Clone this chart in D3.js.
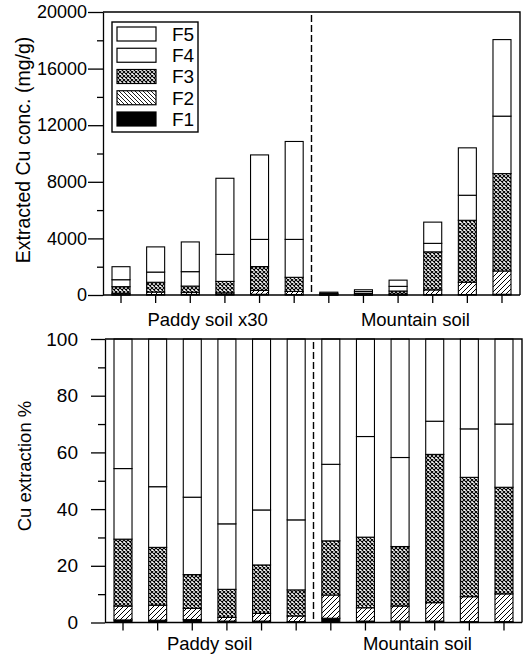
<!DOCTYPE html>
<html>
<head>
<meta charset="utf-8">
<script src="https://cdn.jsdelivr.net/npm/d3@7"></script>
<style>
  html, body { margin: 0; padding: 0; background: #fff; }
  svg { display: block; font-family: "Liberation Sans", Arial, Helvetica, sans-serif; }
</style>
</head>
<body>
<svg id="chart" width="525" height="662"></svg>
<script>
// ---- data -------------------------------------------------------------
const samples = d3.range(12);               // 6 paddy soils, then 6 mountain soils
const paddySamples = samples.slice(0, 6);
const mountainSamples = samples.slice(6);
const fractions = ["F1", "F2", "F3", "F4", "F5"];

// Extracted Cu concentration per fraction (mg/g); paddy values are plotted x30
const concF1 = [20, 30, 40, 40, 50, 30, 3, 2, 5, 25, 30, 50];
const concF2 = [100, 180, 150, 110, 270, 220, 16, 17, 56, 335, 870, 1650];
const concF3 = [470, 690, 440, 810, 1690, 1000, 39, 92, 220, 2690, 4380, 6880];
const concF4 = [490, 720, 1020, 1910, 1920, 2680, 54, 132, 330, 600, 1770, 4060];
const concF5 = [920, 1780, 2100, 5380, 5970, 6920, 88, 127, 439, 1500, 3350, 5410];

// Share of total extracted Cu per fraction (%)
const pctF1 = [0.9, 0.8, 1.0, 0.5, 0.5, 0.3, 1.5, 0.5, 0.5, 0.5, 0.3, 0.3];
const pctF2 = [4.9, 5.3, 4.0, 1.3, 2.7, 2.0, 8.2, 4.7, 5.3, 6.5, 8.8, 9.8];
const pctF3 = [23.6, 20.4, 11.9, 9.9, 17.1, 9.2, 19.1, 24.9, 21.0, 52.3, 42.1, 37.6];
const pctF4 = [24.9, 21.4, 27.3, 23.1, 19.4, 24.7, 27.0, 35.5, 31.4, 11.7, 17.1, 22.3];
const pctF5 = [45.7, 52.1, 55.8, 65.2, 60.3, 63.8, 44.2, 34.4, 41.8, 29.0, 31.7, 30.0];

const concMajorTicks = [0, 4000, 8000, 12000, 16000, 20000];
const concMinorTicks = [2000, 6000, 10000, 14000, 18000];
const pctMajorTicks = [0, 20, 40, 60, 80, 100];
const pctMinorTicks = [10, 30, 50, 70, 90];
const topGroupLabels = ["Paddy soil x30", "Mountain soil"];
const bottomGroupLabels = ["Paddy soil", "Mountain soil"];
const concTitle = "Extracted Cu conc. (mg/g)";
const pctTitle = "Cu extraction %";

// ---- drawing ----------------------------------------------------------
const svg = d3.select("#chart");
const defs = svg.append("defs");

// cross-hatch for F3
const cross = defs.append("pattern").attr("id", "pCross")
  .attr("patternUnits", "userSpaceOnUse").attr("width", 4).attr("height", 4);
cross.append("rect").attr("width", 4).attr("height", 4).attr("fill", "#fff");
cross.append("path").attr("d", "M0,0L4,4M4,0L0,4")
  .attr("stroke", "#000").attr("stroke-width", 1.1);

// forward diagonal hatch for F2 bars
const slash = defs.append("pattern").attr("id", "pSlash")
  .attr("patternUnits", "userSpaceOnUse").attr("width", 5).attr("height", 5);
slash.append("rect").attr("width", 5).attr("height", 5).attr("fill", "#fff");
slash.append("path").attr("d", "M0,5L5,0M-1,1L1,-1M4,6L6,4")
  .attr("stroke", "#000").attr("stroke-width", 1);

// backward diagonal hatch for the F2 legend key
const back = defs.append("pattern").attr("id", "pBack")
  .attr("patternUnits", "userSpaceOnUse").attr("width", 4).attr("height", 4);
back.append("rect").attr("width", 4).attr("height", 4).attr("fill", "#fff");
back.append("path").attr("d", "M0,0L4,4M-1,3L1,5M3,-1L5,1")
  .attr("stroke", "#000").attr("stroke-width", 0.9);

const barFill = { F1: "#000", F2: "url(#pSlash)", F3: "url(#pCross)", F4: "#fff", F5: "#fff" };
const keyFill = { F1: "#000", F2: "url(#pBack)", F3: "url(#pCross)", F4: "#fff", F5: "#fff" };

function rowsFrom(cols) {
  return samples.map(i => {
    const r = { sample: i };
    fractions.forEach((f, k) => { r[f] = cols[k][i]; });
    return r;
  });
}

function panel(opt) {
  const g = svg.append("g");
  const x = d3.scaleBand().domain(samples).range([opt.left, opt.right])
    .paddingInner(0.48).paddingOuter(0.26);
  const y = d3.scaleLinear().domain(opt.domain).range([opt.bottom, opt.top]);

  const stacked = d3.stack().keys(fractions)(rowsFrom(opt.cols));

  // bars
  stacked.forEach(layer => {
    g.append("g").selectAll("rect").data(layer).join("rect")
      .attr("x", d => x(d.data.sample))
      .attr("width", x.bandwidth())
      .attr("y", d => y(d[1]))
      .attr("height", d => Math.max(0, y(d[0]) - y(d[1])))
      .attr("fill", barFill[layer.key])
      .attr("stroke", "#000")
      .attr("stroke-width", 1.1);
  });

  // dashed divider between the two soil groups
  const divX = (x(paddySamples[5]) + x.bandwidth() + x(mountainSamples[0])) / 2;
  g.append("line")
    .attr("x1", divX).attr("x2", divX)
    .attr("y1", opt.top + opt.dashTopGap).attr("y2", opt.bottom)
    .attr("stroke", "#000").attr("stroke-width", 1.4)
    .attr("stroke-dasharray", "7,3");

  // frame
  g.append("path")
    .attr("d", `M${opt.left},${opt.top}H${opt.right}V${opt.bottom}`)
    .attr("fill", "none").attr("stroke", "#000").attr("stroke-width", 1.4);

  // y axis: major + minor ticks
  const yMajor = g.append("g").attr("transform", `translate(${opt.left},0)`)
    .call(d3.axisLeft(y).tickValues(opt.major).tickFormat(d3.format("d"))
      .tickSize(opt.majorLen).tickPadding(opt.tickPad).tickSizeOuter(0));
  const yMinor = g.append("g").attr("transform", `translate(${opt.left},0)`)
    .call(d3.axisLeft(y).tickValues(opt.minor).tickSize(opt.minorLen)
      .tickFormat(() => "").tickSizeOuter(0));
  yMinor.select(".domain").remove();

  // x axis: a tick below each bar
  const xAxis = g.append("g").attr("transform", `translate(0,${opt.bottom})`)
    .call(d3.axisBottom(x).tickSize(8).tickFormat(() => "").tickSizeOuter(0));

  [yMajor, yMinor, xAxis].forEach(a => {
    a.selectAll("path, line").attr("stroke", "#000").attr("stroke-width", 1.3);
    a.selectAll("text").attr("fill", "#000")
      .style("font-family", "'Liberation Sans', Arial, sans-serif")
      .style("font-size", opt.tickFont);
  });
  xAxis.select(".domain").attr("d", `M${opt.left},0H${opt.right}`);

  // group labels
  [paddySamples, mountainSamples].forEach((grp, k) => {
    const cx = (x(grp[0]) + x(grp[grp.length - 1]) + x.bandwidth()) / 2;
    g.append("text")
      .attr("x", cx).attr("y", opt.labelY)
      .attr("text-anchor", "middle")
      .style("font-size", "18.5px")
      .text(opt.groupLabels[k]);
  });

  // y title
  g.append("text")
    .attr("transform", `translate(${opt.titleX},${opt.titleY}) rotate(-90)`)
    .attr("text-anchor", "middle")
    .style("font-size", opt.titleSize)
    .text(opt.title);

  return { x, y, g };
}

panel({
  left: 103, right: 520, top: 12, bottom: 295,
  domain: [0, 20000],
  cols: [concF1, concF2, concF3, concF4, concF5],
  major: concMajorTicks, minor: concMinorTicks,
  majorLen: 15, minorLen: 6, tickPad: 1, tickFont: "18px",
  groupLabels: topGroupLabels, labelY: 326,
  title: concTitle, titleX: 30, titleY: 150, titleSize: "19.5px",
  dashTopGap: 3
});

panel({
  left: 105, right: 522, top: 339, bottom: 622.5,
  domain: [0, 100],
  cols: [pctF1, pctF2, pctF3, pctF4, pctF5],
  major: pctMajorTicks, minor: pctMinorTicks,
  majorLen: 14, minorLen: 7, tickPad: 13, tickFont: "19px",
  groupLabels: bottomGroupLabels, labelY: 650,
  title: pctTitle, titleX: 31, titleY: 466, titleSize: "18.5px",
  dashTopGap: 3
});

// legend
const legend = svg.append("g");
legend.append("rect")
  .attr("x", 112).attr("y", 22).attr("width", 86).attr("height", 110)
  .attr("fill", "#fff").attr("stroke", "#000").attr("stroke-width", 1.4);
const keyOrder = fractions.slice().reverse();
const keyY = d3.scalePoint().domain(keyOrder).range([34, 119]);
keyOrder.forEach(f => {
  legend.append("rect")
    .attr("x", 117).attr("y", keyY(f) - 7)
    .attr("width", 39).attr("height", 14)
    .attr("fill", keyFill[f]).attr("stroke", "#000").attr("stroke-width", 1.2);
  legend.append("text")
    .attr("x", 172).attr("y", keyY(f))
    .attr("dy", "0.36em")
    .style("font-size", "19px")
    .text(f);
});
</script>
</body>
</html>
